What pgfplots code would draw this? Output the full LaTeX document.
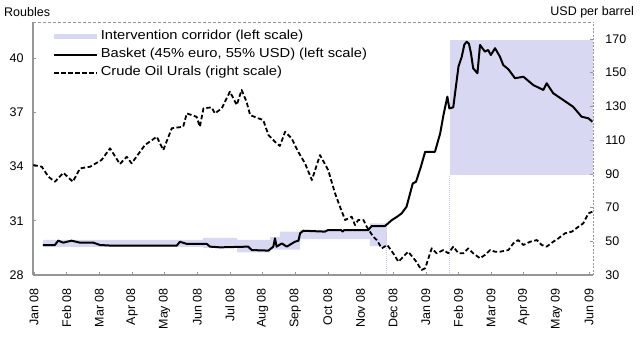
\documentclass[border=0pt]{standalone}
\usepackage{pgfplots}
\pgfplotsset{compat=1.18}
\usepackage{fontspec}
\setmainfont{Liberation Sans}
\newfontfamily\legfont{Liberation Sans}[FakeStretch=1.13]
\definecolor{corr}{RGB}{216,216,243}
\definecolor{corrdot}{RGB}{200,200,235}
\definecolor{framec}{RGB}{150,150,150}
\pgfplotsset{
  longline/.style={legend image code/.code={\draw[##1] (0bp,0bp) -- (43bp,0bp);}},
  corrpatch/.style={legend image code/.code={\fill[corr] (0bp,-2.5bp) rectangle (43bp,2.5bp);}},
}
\begin{document}
\fontsize{12.5bp}{15bp}\selectfont
\begin{tikzpicture}[x=1bp,y=1bp]
\path[use as bounding box] (0,0) rectangle (640,337);
\node[anchor=west,inner sep=0] at (4,325) {Roubles};
\node[anchor=east,inner sep=0] at (634,325) {USD per barrel};
\begin{axis}[
  at={(33bp,62bp)}, anchor=south west, scale only axis,
  width=560bp, height=253bp,
  xmin=-0.03, xmax=17.12, ymin=28, ymax=42,
  axis x line*=bottom, axis y line*=left,
  axis line style={-, framec, line width=1.2bp},
  ytick={28,31,34,37,40},
  xtick={0,...,17},
  xticklabels={Jan 08,Feb 08,Mar 08,Apr 08,May 08,Jun 08,Jul 08,Aug 08,Sep 08,Oct 08,Nov 08,Dec 08,Jan 09,Feb 09,Mar 09,Apr 09,May 09,Jun 09},
  tick align=inside, major tick length=3bp,
  tick style={framec, line width=0.6bp},
  xticklabel style={rotate=90, anchor=east},
  xticklabel shift=9bp,
  yticklabel shift=5bp,
  /pgf/number format/assume math mode=true,
  tick label style={font=\fontsize{12.5bp}{15bp}\selectfont},
  legend style={at={(0.036,0.972)}, anchor=north west, draw=none, fill=none,
    inner sep=0pt, row sep=4.3bp,
    nodes={inner ysep=1bp, inner xsep=2.5bp, text height=9bp, text depth=3bp},
    font=\legfont\fontsize{13bp}{15bp}\selectfont},
  legend cell align=left,
]
% intervention corridor (narrow band, 2008)
\addplot[draw=none, fill=corr, corrpatch]
  coordinates {(0.28,29.95)(5.18,29.95)(5.18,30.05)(6.22,30.05)(6.22,29.95)(7.23,29.95)
  (7.23,30.10)(7.53,30.10)(7.53,30.40)(8.15,30.40)(8.15,30.50)(10.29,30.50)(10.29,30.85)(10.81,30.85)
  (10.81,29.60)(10.29,29.60)(10.29,29.98)(8.15,29.98)(8.15,29.40)(7.23,29.40)(7.23,29.25)(6.22,29.25)
  (6.22,29.50)(5.18,29.50)(5.18,29.55)(0.28,29.55)} -- cycle;
\addlegendentry{Intervention corridor (left scale)}
% intervention corridor (2009)
\addplot[draw=none, fill=corr, forget plot]
  coordinates {(12.74,33.53)(17.12,33.53)(17.12,41.0)(12.74,41.0)} -- cycle;
\addplot[corrdot, densely dotted, line width=1bp, forget plot]
  coordinates {(10.81,28.1)(10.81,30.4)};
\addplot[corrdot, densely dotted, line width=1bp, forget plot]
  coordinates {(12.74,28.1)(12.74,33.5)};
% basket
\addplot[black, line width=2bp, line join=round, longline]
  coordinates {(0.27,29.66)(0.64,29.66)(0.74,29.90)(0.90,29.79)(1.15,29.90)(1.41,29.79)(1.82,29.79)
  (2.02,29.66)(2.43,29.62)(4.37,29.62)(4.47,29.84)(4.68,29.72)(5.29,29.72)(5.39,29.57)(5.70,29.53)
  (6.56,29.57)(6.67,29.38)(7.18,29.35)(7.33,29.57)(7.38,30.03)(7.43,29.57)(7.59,29.75)(7.74,29.57)
  (7.99,29.84)(8.10,29.90)(8.15,30.31)(8.25,30.45)(8.91,30.40)(9.01,30.49)(9.40,30.49)(9.45,30.40)(9.50,30.49)
  (10.24,30.49)(10.34,30.71)(10.75,30.71)(10.96,31.04)(11.10,31.20)(11.26,31.41)(11.41,31.78)(11.60,33.07)
  (11.70,33.16)(11.85,34.00)(11.98,34.82)(12.28,34.82)(12.44,35.84)(12.54,36.85)(12.66,37.87)(12.72,37.22)
  (12.84,37.28)(13.00,39.53)(13.10,40.08)(13.18,40.75)(13.25,40.91)(13.32,40.80)(13.38,40.3)(13.45,39.44)(13.58,39.16)(13.66,40.73)
  (13.81,40.36)(13.91,40.45)(13.99,40.17)(14.12,40.55)(14.27,40.08)(14.37,39.62)(14.53,39.38)(14.73,38.89)
  (14.99,38.97)(15.29,38.51)(15.60,38.24)(15.70,38.61)(15.90,38.06)(16.21,37.68)(16.51,37.31)(16.77,36.76)
  (16.98,36.67)(17.10,36.48)};
\addlegendentry{Basket (45\% euro, 55\% USD) (left scale)}
\addlegendimage{black, line width=1.8bp, dash pattern=on 4.5bp off 2.5bp, longline}
\addlegendentry{Crude Oil Urals (right scale)}
\draw[framec, line width=0.6bp, dash pattern=on 3bp off 2bp] (rel axis cs:0,1) -- (rel axis cs:1,1);
\end{axis}
\begin{axis}[
  at={(33bp,62bp)}, anchor=south west, scale only axis,
  width=560bp, height=253bp,
  xmin=-0.03, xmax=17.12, ymin=30, ymax=180,
  axis x line=none, axis y line*=right,
  axis line style={-, framec, line width=0.8bp, dash pattern=on 2bp off 1.5bp},
  ytick={30,50,70,90,110,130,150,170},
  tick align=inside, major tick length=3bp,
  tick style={framec, line width=0.6bp, solid},
  yticklabel shift=8bp,
  /pgf/number format/assume math mode=true,
  tick label style={font=\fontsize{12.5bp}{15bp}\selectfont},
]
\addplot[black, line width=1.8bp, dash pattern=on 4.5bp off 2.5bp, line join=round]
  coordinates {(-0.02,95.2)(0.24,94.2)(0.44,88.3)(0.64,85.3)(0.90,90.6)(1.19,85.3)(1.41,93.2)(1.72,94.2)
  (2.07,98.2)(2.33,105.1)(2.63,95.8)(2.84,100.1)(2.99,96.2)(3.40,107.1)(3.76,112.0)(3.96,104.1)(4.22,117.0)
  (4.57,117.9)(4.68,125.8)(4.98,123.8)(5.08,117.9)(5.19,128.8)(5.44,129.4)(5.54,125.8)(5.75,128.8)(6.00,138.7)
  (6.21,130.8)(6.36,139.7)(6.51,132.7)(6.62,124.8)(6.87,122.9)(7.02,121.9)(7.18,113.0)(7.38,109.0)(7.53,106.5)
  (7.69,114.9)(7.89,111.0)(8.09,103.1)(8.30,96.2)(8.51,86.3)(8.76,101.1)(9.01,92.2)(9.22,78.4)(9.37,70.5)
  (9.53,62.6)(9.73,64.6)(9.83,59.6)(9.93,62.6)(10.09,62.6)(10.19,58.6)(10.39,52.7)(10.50,50.7)(10.65,45.8)
  (10.82,47.8)(11.00,42.9)(11.16,37.9)(11.46,43.8)(11.67,38.9)(11.87,33.0)(11.98,34.0)(12.18,45.8)(12.33,42.9)
  (12.54,44.8)(12.69,42.9)(12.84,46.8)(13.00,42.9)(13.15,42.9)(13.30,45.8)(13.45,42.9)(13.66,39.9)(13.81,41.9)
  (13.97,44.8)(14.12,43.8)(14.27,43.8)(14.53,44.8)(14.68,48.8)(14.83,50.7)(14.99,47.8)(15.19,49.7)(15.40,50.7)
  (15.55,47.8)(15.70,46.8)(15.90,49.7)(16.06,51.7)(16.26,54.7)(16.47,55.7)(16.67,58.6)(16.82,60.6)(16.98,66.6)
  (17.10,67.5)};
\end{axis}
\end{tikzpicture}
\end{document}
